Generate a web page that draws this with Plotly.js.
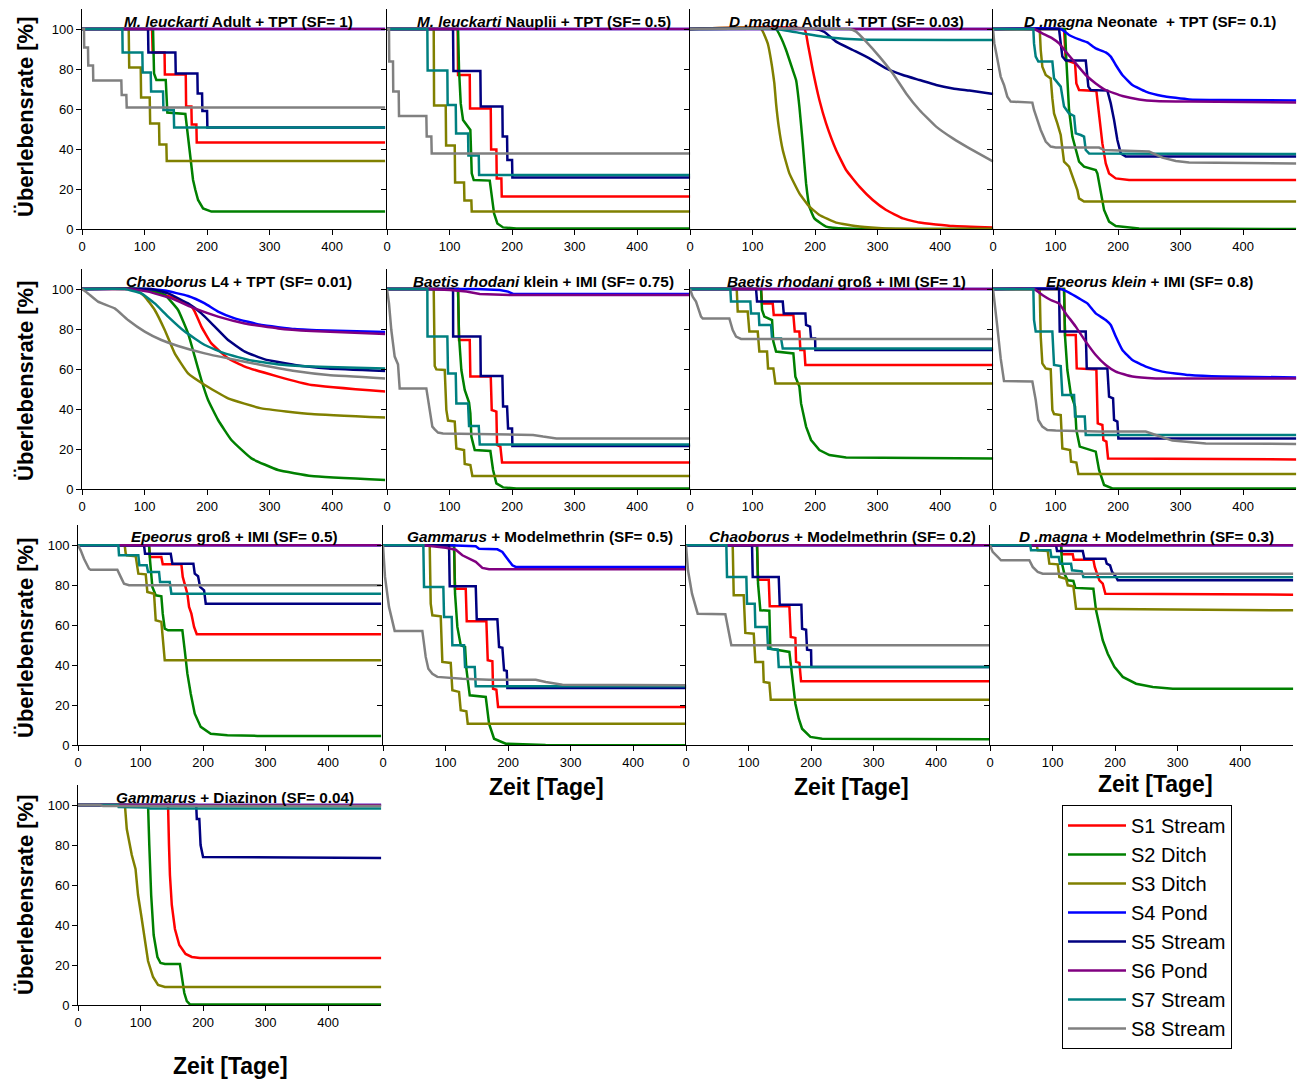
<!DOCTYPE html>
<html><head><meta charset="utf-8">
<script src="https://cdn.plot.ly/plotly-3.0.1.min.js"></script>
<style>html,body{margin:0;padding:0;background:#fff}#chart{width:1301px;height:1079px}</style>
</head><body><div id="chart"></div>
<script>
// ---- Data: survival curves, flat lists of [time (days), survival (%)] pairs ----
const SERIES_NAMES = ['S1 Stream','S2 Ditch','S3 Ditch','S4 Pond','S5 Stream','S6 Pond','S7 Stream','S8 Stream'];
const SERIES_COLORS = ['#FF0000','#008000','#808000','#0000FF','#000080','#800080','#008080','#808080'];
const X_TICKS = [0,100,200,300,400];
const Y_TICKS = [0,20,40,60,80,100];
const PANEL_TITLES = [
 '<i>M. leuckarti</i> Adult + TPT (SF= 1)',
 '<i>M. leuckarti</i> Nauplii + TPT (SF= 0.5)',
 '<i>D .magna</i> Adult + TPT (SF= 0.03)',
 '<i>D .magna</i> Neonate  + TPT (SF= 0.1)',
 '<i>Chaoborus</i> L4 + TPT (SF= 0.01)',
 '<i>Baetis rhodani</i> klein + IMI (SF= 0.75)',
 '<i>Baetis rhodani</i> groß + IMI (SF= 1)',
 '<i>Epeorus klein</i> + IMI (SF= 0.8)',
 '<i>Epeorus</i> groß + IMI (SF= 0.5)',
 '<i>Gammarus</i> + Modelmethrin (SF= 0.5)',
 '<i>Chaoborus</i> + Modelmethrin (SF= 0.2)',
 '<i>D .magna</i> + Modelmethrin (SF= 0.3)',
 '<i>Gammarus</i> + Diazinon (SF= 0.04)'
];

const P1_S1=[0,100,112,100,113,88.3,132,88.3,132.5,77.3,165.9,77.3,166.5,61.2,174.9,61.2,175.5,52.3,182.9,52.3,183.5,43.2,485,43.2];
const P1_S2=[0,100,113.6,100,115.2,77.8,118.9,74.5,133.9,74.5,136.5,58.2,165.3,57.5,169.6,46.2,173.9,32.8,177.6,24.5,181.3,19.5,185.6,14.5,193.6,10.3,206.9,8.7,485,8.7];
const P1_S3=[0,100,74.7,100,75.5,80.8,93.9,80.8,94.5,65.7,108.3,65.7,109,52.8,123.2,52.8,123.8,42.3,134.9,42.3,135.5,34,485,34];
const P1_S4=[0,100,485,100];
const P1_S5=[0,100,105.6,100,106.2,88.3,149.3,88.3,149.9,77.8,184.5,77.8,185,67.8,192,67.8,192.5,59,200,59,200.5,50.8,485,50.8];
const P1_S6=[0,100,485,100];
const P1_S7=[0,100,64.5,100,65,88.3,96.5,88.3,97,78.3,109.9,78.3,110.5,68.7,129.6,68.7,130.2,59.5,146.7,59.5,147.3,50.8,485,50.8];
const P1_S8=[0,100,3.2,100,3.5,90.8,9.6,90.8,10,81.7,17.6,81.7,18,74.2,62.9,74.2,63.5,67,70.9,67,71.5,60.8,485,60.8];

const P2_S1=[0,100,113,100,113.6,77,132.3,77,132.8,60.3,165.9,60.3,166.5,39.8,174.9,39.8,175.5,25.3,182.9,25.3,183.5,16.2,485,16.2];
const P2_S2=[0,100,113.6,100,115.2,79.5,117.9,62.8,121.6,54.5,129.6,50.8,133.3,49.5,135.5,27.8,138.7,24.5,164.3,24.2,167.5,16.2,171.2,7.8,176.5,2.8,185.6,0.8,206.9,0.3,485,0.3];
const P2_S3=[0,100,74.7,100,75.3,61.7,93.9,61.7,94.5,41.7,108.3,41.7,108.9,23.2,123.2,23.2,123.8,14.2,134.9,14.2,135.5,8.7,485,8.7];
const P2_S4=[0,100,485,100];
const P2_S5=[0,100,105.6,100,106.2,79,149.3,79,149.9,61.2,184.5,61.2,185,46.2,192,46.2,192.5,34.5,200,34.5,200.5,25.7,485,25.7];
const P2_S6=[0,100,485,100];
const P2_S7=[0,100,64.5,100,65,79.2,96.5,79.2,97,62,109.9,62,110.5,47.8,129.6,47.8,130.2,36.7,146.7,36.7,147.3,27,485,27];
const P2_S8=[0,100,3.2,100,3.6,83.7,9.6,83.7,10,68.7,18.7,68.7,19.2,56.5,62.9,56.5,63.5,46.2,70.9,46.2,71.5,37.8,485,37.8];

const P3_S1=[0,100,182.9,100,188.3,92.8,196.3,79.5,206.9,64.5,217.6,52.8,233.6,39.5,249.6,29.5,270.9,21.2,292.3,14.5,313.6,9.5,340.3,5.3,366.9,3.2,420.3,1.5,485,0.8];
const P3_S2=[0,100,137.6,100,145,96,153.6,89.5,164.3,79.5,169.6,74.5,174.9,61.2,180.3,42.8,185.6,22.8,190.9,11.2,198.9,5.3,217.6,1.2,250,0.2,485,0];
const P3_S3=[0,100,113.6,100,124.3,92.8,131.2,81.2,134.9,72.8,137.6,62.8,141.9,51.2,148.3,39.5,158.9,27.8,174.9,17.8,190.9,11.2,206.9,7,233.6,3.2,270.9,1.2,313.6,0.3,485,0];
const P3_S4=[0,100,485,100];
const P3_S5=[0,100,200,100,215,98.5,233.6,93.7,260.3,89.5,286.9,85.3,313.6,80.3,340.3,77,366.9,74.5,393.6,72,420.3,70.3,446.9,69.2,485,67.5];
const P3_S6=[0,100,485,100];
const P3_S7=[0,100,137.6,100,180.3,97.8,222.9,95.8,270.9,94.7,485,94.5];
const P3_S8=[0,100,254.9,100,265.6,98.7,281.6,93.7,302.9,86.2,324.3,77.8,345.6,67.8,366.9,59.5,393.6,51.2,420.3,45.3,446.9,40.3,485,33.7];

const P4_S1=[0,100,113.6,100,116.3,84.5,131.2,82.8,133.3,72.8,137.6,69.5,165.3,69,169.6,56.2,174.9,42.8,180.3,32.8,185.6,27.8,196.3,25.3,217.6,24.5,485,24.5];
const P4_S2=[0,100,115.2,100,117.3,84.5,121.6,59.5,126.9,46.2,132.3,39.5,137.6,33.7,145.6,31.2,164.3,29.5,166.9,27.8,172.3,19.5,177.6,9.5,185.6,3.7,196.3,1.5,233.6,0.3,485,0];
const P4_S3=[0,100,74.7,100,76.3,89.5,78.9,81.2,84.3,77,92.3,75.3,94.9,65.3,97.6,57.8,102.9,52.8,108.3,47,109.9,42.8,113.6,33.7,121.6,31.2,129.6,23.7,134.9,19.5,137.6,15.3,145.6,13.7,485,13.7];
const P4_S4=[0,100,108.3,100,121.6,97,137.6,94.8,150.9,93.3,164.3,90.3,180.3,88.3,188.3,86.2,196.3,82,206.9,77,222.9,72,244.3,68.7,270.9,66.5,313.6,64.8,366.9,64.5,485,64.3];
const P4_S5=[0,100,105.6,100,108.3,92.8,110.9,86.2,116.3,84.2,148.3,84.2,152.5,71.2,156.3,69.5,182.9,69.2,188.3,62.8,193.6,54.5,198.9,44.5,204.3,37.8,212.3,36.2,485,36.2];
const P4_S6=[0,100,65.6,100,78.9,97.8,94.9,95.3,105.6,92.8,116.3,88.7,132.3,82.8,148.3,77,164.3,72.8,180.3,69.5,206.9,66.5,233.6,64.8,260.3,64,313.6,63.7,485,63.3];
const P4_S7=[0,100,64.5,100,65.6,92.8,68.3,86.2,72.5,83.7,94.9,83.7,97.6,75.3,108.3,71.2,113.6,61.2,121.6,57.8,129.6,56.5,132.3,47.8,140.3,47,145.6,46.2,148.3,39.5,153.6,37.8,485,37.5];
const P4_S8=[0,100,2.1,92.8,5.3,87.8,8.5,82,12.3,76.2,17.6,72,22.9,66.2,28.3,63.7,62.9,63.2,65.6,59.5,70.9,54.5,76.3,49.5,84.3,43.7,92.3,41.2,100.3,40.7,169.6,40.7,177.6,39.5,249.6,38.7,270.9,35.7,292.3,34,313.6,33.2,485,32.8];

const P5_S1=[0,100,73.6,100,110.9,99.2,148.3,95.3,174.9,91.2,180.3,88.7,190.9,81.2,206.9,72.8,233.6,65.3,260.3,61.2,313.6,56.2,366.9,52,485,48.7];
const P5_S2=[0,100,100.3,100,132.3,97,153.6,89.5,169.6,77.8,180.3,66.2,190.9,54.5,201.6,44.5,217.6,34.5,238.9,24.5,270.9,15.3,313.6,9.5,366.9,6.5,485,4.5];
const P5_S3=[0,100,84.3,100,100.3,96.2,116.3,89.5,132.3,79.5,148.3,67.8,169.6,57.8,196.3,52,233.6,45.3,286.9,40.3,366.9,37.5,485,35.7];
const P5_S4=[0,100,106.7,100,132.3,99.2,169.6,96.5,196.3,92.8,217.6,88.7,244.3,85.3,286.9,82,340.3,80,393.6,79.2,485,78.5];
const P5_S5=[0,100,110.9,100,137.6,97.8,169.6,92.8,190.9,87.8,212.3,81.2,233.6,74.5,260.3,68.7,292.3,64.8,340.3,62,393.6,60.3,485,59];
const P5_S6=[0,100,73.6,100,105.6,98.7,142.9,95.3,180.3,90.3,217.6,86.2,260.3,82.8,313.6,80.3,366.9,79,485,77.5];
const P5_S7=[0,100,68.3,100,94.9,97.8,116.3,92.8,137.6,86.2,164.3,78.7,196.3,72,228.3,67.8,270.9,64.2,324.3,62,393.6,61,485,60.3];
const P5_S8=[0,100,9.6,97.8,25.6,93.7,52.3,90.3,73.6,84.5,100.3,78.7,126.9,74.5,153.6,71.5,196.3,67.8,233.6,65.3,286.9,62,340.3,59,393.6,57,485,55.3];

const P6_S1=[0,100,113.6,100,115.2,74.5,132.3,74.5,133.3,56.2,165.9,56.2,167.5,39.5,174.9,38.7,176,22,181.3,21.2,184,13.2,485,13.2];
const P6_S2=[0,100,113.6,100,115.2,76.2,118.9,59.5,124.3,49.5,131.2,43.2,133.3,37.8,134.9,26.2,140.3,19.5,165.3,19,169.6,9.5,174.9,2.8,185.6,0.8,206.9,0.3,485,0.3];
const P6_S3=[0,100,74.7,100,76.3,61.5,78.9,59.8,92.3,59.5,94.9,39.5,97.6,34.2,108.3,33.7,110.9,20.3,123.2,19.5,124.3,12.5,133.3,12,136.5,6.5,485,6.5];
const P6_S4=[0,100,142.9,100,180.3,99.5,193.6,98.7,201.6,97.5,485,97.5];
const P6_S5=[0,100,105.6,100,105.8,76.2,149.3,76.2,149.9,56.5,184.5,56.5,185.6,41.2,192,41.2,193.6,30.3,200,30.3,200.5,21.5,485,21.5];
const P6_S6=[0,100,65.6,100,100.3,99.5,126.9,98.7,148.3,97.5,196.3,97,485,97];
const P6_S7=[0,100,64.5,100,64.8,76.2,96.5,76.2,97.6,57.8,109.9,57.8,110.9,42.8,129.6,42.8,131.2,31.5,146.7,31.5,148.3,22.3,485,22.3];
const P6_S8=[0,100,3.2,92.8,6.9,79.5,12.3,66.2,17.6,62.3,20.3,50.3,62.9,50.3,68.3,39.5,72.5,31.2,76.3,29.8,81.6,28.2,89.6,27.8,153.6,27.3,233.6,27,249.6,26.2,270.9,25.3,485,25.3];

const P7_S1=[0,100,113.6,100,115.2,92.8,132.3,92.8,133.9,87,165.3,87,167.5,78.7,174.9,78.7,176.5,69.5,182.9,69.5,184.5,62,485,62];
const P7_S2=[0,100,113.6,100,115.2,89.5,118.9,86.2,131.2,84.5,133.3,73.7,137.6,68.7,165.3,67.8,168.5,56.2,174.9,51.2,177.6,42.8,181.3,37.8,185.6,31.2,193.6,24.5,206.9,19.5,222.9,17,249.6,15.7,485,15.3];
const P7_S3=[0,100,74.7,100,76.3,88.7,92.3,88.7,94.9,78.7,108.3,78.7,110.9,68.7,123.2,68.7,124.8,60.3,133.3,60.3,136.5,52.8,485,52.8];
const P7_S4=[0,100,485,100];
const P7_S5=[0,100,105.6,100,107.2,93.7,148.3,93.7,149.9,87.8,184.5,87.8,185.6,82,192,81.2,193.6,75.3,200,75.3,200.5,69.5,485,69.5];
const P7_S6=[0,100,485,100];
const P7_S7=[0,100,64.5,100,65.6,93.7,96.5,93.7,97.6,87.8,109.9,87.8,110.9,82,129.6,82,131.2,75.3,145.6,75.3,148.3,70.3,485,70.3];
const P7_S8=[0,100,4.3,96.2,9.6,93.7,17.6,86.2,20.3,85.3,62.9,85.3,68.3,79.5,73.6,76.2,81.6,75,485,75];

const P8_S1=[0,100,113.6,100,115.2,77,132.3,77,133.9,60.3,165.3,59.8,167.5,32.8,174.9,32,176.5,24.5,181.3,23.7,184,15.3,485,14.8];
const P8_S2=[0,100,113.6,100,115.2,76.2,118.9,59.5,124.3,47.8,131.2,41.2,133.3,29.5,138.7,21.2,164.3,18.7,169.6,9.5,177.6,2,190.9,0.3,485,0.3];
const P8_S3=[0,100,74.7,100,76.3,76.2,78.9,62.8,84.3,60.3,92.3,59.8,94.9,39.5,97.6,37.5,108.3,37,110.9,20.3,123.2,19.5,124.8,13.7,133.3,13.2,136.5,7.5,485,7.5];
const P8_S4=[0,100,108.3,100,121.6,98.2,137.6,95.3,150.9,92.8,164.3,87.8,180.3,84.5,188.3,82,196.3,76.2,206.9,69.5,222.9,64.5,244.3,61.2,270.9,58.7,313.6,57,366.9,56.2,485,55.8];
const P8_S5=[0,100,105.6,100,106.7,78.7,148.3,78.7,149.9,60.3,182.9,60.3,185.6,46.2,192,45.3,193.6,34.5,198.9,33.7,200.5,25.3,485,25.3];
const P8_S6=[0,100,65.6,100,78.9,97,92.3,94.5,105.6,92.8,116.3,87.8,132.3,81.2,148.3,73.7,164.3,67,180.3,62,196.3,58.7,222.9,56.2,260.3,55.3,485,55.3];
const P8_S7=[0,100,64.5,100,65.6,84.5,68.3,78.7,94.9,78.7,97.6,62,108.3,61.5,110.9,47,129.6,47,131.2,36.2,146.7,36.2,148.3,27,485,27];
const P8_S8=[0,100,3.2,89.5,6.9,81.2,12.3,65.3,17.6,54,62.9,53.7,68.3,44.5,72.5,34.5,78.9,31.2,86.9,29.5,100.3,29.2,169.6,28.7,244.3,28.7,260.3,27,286.9,24.2,340.3,22.8,485,22.5];

const P9_S1=[0,100,113.6,100,115.2,94.2,133.3,94.2,135.5,90.5,165.3,90.5,167.5,84.2,174.9,75.8,177.6,69.2,181.3,65.8,185.6,59.2,189.9,55.5,485,55.5];
const P9_S2=[0,100,113.6,100,115.2,92.5,118.9,79.2,124.3,75,133.3,74.5,135.5,65.8,138.7,58.3,144,57.5,166.9,57.5,170.7,47.5,174.9,35.8,180.3,25.8,186.7,15.8,196.3,9.2,212.3,5.8,238.9,5,286.9,4.7,485,4.7];
const P9_S3=[0,100,74.7,100,76.3,95.8,77.9,95,92.3,94.5,94.9,87.5,96.5,85.8,108.3,85.5,110.9,76.7,121.6,75.8,124.3,62.5,133.3,61.7,135.5,51.7,138.7,42.5,485,42.5];
const P9_S4=[0,100,485,100];
const P9_S5=[0,100,105.6,100,107.2,95.8,148.3,95.8,150.9,90.8,184.5,90.8,186.7,85.8,192,84.5,195.2,79.2,201.6,77.5,204.3,70.8,485,70.8];
const P9_S6=[0,100,485,100];
const P9_S7=[0,100,64.5,100,65.6,95,96.5,95,98.1,90,109.9,90,112,86.7,129.6,86.7,131.2,81.7,146.7,81.7,149.3,75.8,485,75.8];
const P9_S8=[0,100,4.3,97.5,9.6,93.3,17.6,88.3,20.3,87.8,62.9,87.8,68.3,84.2,73.6,80.8,81.6,80,485,80];

const P10_S1=[0,100,113.6,100,115.2,78.3,132.3,78.3,133.9,62,165.3,62,167.5,42.5,174.9,42,176,28.3,181.3,27.8,184,19.2,485,19.2];
const P10_S2=[0,100,113.6,100,115.2,75.8,118.9,59.2,124.3,50,131.2,49.2,133.3,38.3,138.7,25,164.3,24.2,169.6,10.8,177.6,3.3,196.3,0.8,260,0.2,485,0];
const P10_S3=[0,100,74.7,100,76.3,70.8,78.9,65,92.3,64.5,94.9,41.7,108.3,41.2,110.9,27.5,121.6,26.7,124.3,17.5,133.3,17,135.5,10.8,485,10.8];
const P10_S4=[0,100,105.6,100,148.3,99.5,153.6,98.3,182.9,98,190.9,96.7,198.9,93.3,206.9,90,212.3,89.2,485,89.2];
const P10_S5=[0,100,105.6,100,106.7,79.5,148.3,79.5,149.9,63,182.9,63,185.6,49.2,190.9,48.8,193.6,37.5,197.9,37.2,198.9,28.7,485,28.7];
const P10_S6=[0,100,65.6,100,100.3,98.8,116.3,97.8,126.9,95,137.6,93.3,148.3,91.7,158.9,88.7,169.6,88,485,88];
const P10_S7=[0,100,64.5,100,65.6,79.2,96.5,79.2,97.6,64.2,109.9,64.2,110.9,50,129.6,50,131.2,39.2,146.7,39.2,148.3,29.5,485,29.5];
const P10_S8=[0,100,3.2,84.2,9.6,69.2,18.7,57.2,62.9,57.2,68.3,44.2,72.5,38.3,78.9,35.8,86.9,34.2,126.9,33.3,169.6,32.8,244.3,32.8,260.3,31.7,286.9,30.3,485,30];

const P11_S1=[0,100,113.6,100,115.2,82.8,132.3,82.8,133.9,69.5,165.3,69.5,167.5,54.2,174.9,53.7,176,41.7,181.3,41.2,184,32,485,32];
const P11_S2=[0,100,113.6,100,115.2,80.8,118.9,67.5,133.3,67.3,134.9,48.3,165.3,46.7,169.6,34.2,174.9,20.8,180.3,13.3,185.6,8.3,198.9,4.2,217.6,3.3,485,3];
const P11_S3=[0,100,74.7,100,76.3,75,92.3,75,94.9,56.2,108.3,55.8,110.9,41.7,123.2,41.7,124.3,31.7,133.3,31.2,135.5,22.8,485,22.8];
const P11_S4=[0,100,485,100];
const P11_S5=[0,100,105.6,100,106.7,84.2,148.3,84.2,149.9,70.3,184.5,70.3,185.6,58.3,192,57.8,193.6,47.8,200,47.5,200.5,39.2,485,39.2];
const P11_S6=[0,100,485,100];
const P11_S7=[0,100,64.5,100,65.6,84.2,96.5,84.2,97.6,70.8,109.9,70.8,110.9,59.2,129.6,59.2,131.2,48.3,146.7,47.8,148.3,39.2,485,39.2];
const P11_S8=[0,100,3.2,87.5,9.6,75.8,18.7,65.8,62.9,65.5,68.3,57.2,72.5,50,485,50];

const P12_S1=[0,100,113.6,100,115.2,95.5,132.3,95.5,133.9,92.8,165.3,92.8,167.5,89.2,174.9,82.5,180.3,80.8,184.5,75.8,485,75.3];
const P12_S2=[0,100,113.6,100,115.2,90.8,118.9,85.8,124.3,82.5,133.3,82.2,136.5,78.7,165.3,78.3,169.6,67.5,174.9,60.8,180.3,52.5,188.3,45.8,198.9,39.2,212.3,34.2,233.6,30.8,260.3,29.2,292.3,28.3,485,28.3];
const P12_S3=[0,100,74.7,100,76.3,97.5,92.3,97.2,94.9,90.8,108.3,90.5,110.9,84.2,121.6,83.3,124.3,80,133.3,79.5,137.6,68.3,485,67.5];
const P12_S4=[0,100,485,100];
const P12_S5=[0,100,105.6,100,107.2,97.2,148.3,97.2,150.9,93.3,184.5,93.3,186.7,90.8,192,90,195.2,86.7,201.6,84.2,204.3,82.5,485,82.5];
const P12_S6=[0,100,485,100];
const P12_S7=[0,100,64.5,100,65.6,97.5,96.5,97.5,98.1,94.2,109.9,94.2,112,90.8,129.6,90.8,131.2,87.5,146.7,87,149.3,84.2,485,84];
const P12_S8=[0,100,4.3,96.7,12.3,94.2,17.6,92.5,62.9,92.5,68.3,89.2,76.3,86.7,84.3,85.8,485,85.8];

const P13_S1=[0,100,144,100,145.5,80,147,65,150,50,155,38,162,30,172,25.5,182,24,195,23.5,485,23.5];
const P13_S2=[0,100,112,100,114,80,117,55,121,35,127,24,132,21,139,20.5,163,20.5,166,14,170,6,174,2,179,0.3,485,0.3];
const P13_S3=[0,100,75,100,78,88,82,82,86,75,92,68,96,55,101,45,106,35,112,22,120,14,128,10,139,9,485,9];
const P13_S4=[0,100,485,100];
const P13_S5=[0,100,189,100,190,93,194,93,196,80,200,74,485,73.5];
const P13_S6=[0,100,485,100];
const P13_S7=[0,100,64,100,65,99,110,98.8,115,98.2,485,98.2];
const P13_S8=[0,100,35,100,40,99.5,485,99.5];

const PANEL_SERIES = [
 [P1_S1,P1_S2,P1_S3,P1_S4,P1_S5,P1_S6,P1_S7,P1_S8],
 [P2_S1,P2_S2,P2_S3,P2_S4,P2_S5,P2_S6,P2_S7,P2_S8],
 [P3_S1,P3_S2,P3_S3,P3_S4,P3_S5,P3_S6,P3_S7,P3_S8],
 [P4_S1,P4_S2,P4_S3,P4_S4,P4_S5,P4_S6,P4_S7,P4_S8],
 [P5_S1,P5_S2,P5_S3,P5_S4,P5_S5,P5_S6,P5_S7,P5_S8],
 [P6_S1,P6_S2,P6_S3,P6_S4,P6_S5,P6_S6,P6_S7,P6_S8],
 [P7_S1,P7_S2,P7_S3,P7_S4,P7_S5,P7_S6,P7_S7,P7_S8],
 [P8_S1,P8_S2,P8_S3,P8_S4,P8_S5,P8_S6,P8_S7,P8_S8],
 [P9_S1,P9_S2,P9_S3,P9_S4,P9_S5,P9_S6,P9_S7,P9_S8],
 [P10_S1,P10_S2,P10_S3,P10_S4,P10_S5,P10_S6,P10_S7,P10_S8],
 [P11_S1,P11_S2,P11_S3,P11_S4,P11_S5,P11_S6,P11_S7,P11_S8],
 [P12_S1,P12_S2,P12_S3,P12_S4,P12_S5,P12_S6,P12_S7,P12_S8],
 [P13_S1,P13_S2,P13_S3,P13_S4,P13_S5,P13_S6,P13_S7,P13_S8]
];

// ---- Styling: which curves are drawn smoothed (panel index -> series indices) ----
const SMOOTH_SERIES = {2:[0,1,2,4,6,7], 4:[0,1,2,3,4,5,6,7], 3:[3,5], 7:[3,5]};

// ---- Layout geometry (pixels) ----
const W = 1301, H = 1079;
const COLS_TOP = [[82,385.3],[387,690.3],[690,993.3],[993,1296.3]];
const COLS_BOT = [[78,381.3],[383,686.3],[686,989.3],[990,1293.3]];
const ROWS = [[9,229],[269,489],[525.3,745.3],[785,1005]];
const TITLE_Y = [21,281,537,797];
const YTITLE_Y = [117,381,638,895];
const FONT = 'Liberation Sans, Arial, sans-serif';

const traces = [];
const annotations = [];
const layout = {
  width: W, height: H,
  margin: {l:0, r:0, t:0, b:0},
  paper_bgcolor: '#ffffff', plot_bgcolor: 'rgba(0,0,0,0)',
  showlegend: true,
  legend: {
    x: 1062/W, y: 1 - 805/H, xanchor: 'left', yanchor: 'top',
    bordercolor: '#000', borderwidth: 1, bgcolor: '#fff',
    font: {family: FONT, size: 20, color: '#000'},
    itemwidth: 58, traceorder: 'normal'
  },
  annotations: annotations
};

PANEL_SERIES.forEach((series, i) => {
  const k = i + 1, s = (k === 1 ? '' : String(k));
  const row = Math.floor(i / 4), col = i % 4;
  const [l, r] = (row < 2 ? COLS_TOP : COLS_BOT)[col];
  const [t, b] = ROWS[row];
  layout['xaxis' + s] = {
    domain: [l / W, r / W], range: [0, 485], anchor: 'y' + s,
    tickvals: X_TICKS, ticks: 'outside', ticklen: 5, tickwidth: 1, tickcolor: '#000',
    showline: true, linecolor: '#000', linewidth: 1, showgrid: false, zeroline: false,
    tickfont: {family: FONT, size: 13, color: '#000'}, fixedrange: true
  };
  layout['yaxis' + s] = {
    domain: [1 - b / H, 1 - t / H], range: [0, 110], anchor: 'x' + s,
    tickvals: Y_TICKS, ticks: 'outside', ticklen: 5, tickwidth: 1, tickcolor: '#000',
    showticklabels: col === 0,
    showline: true, linecolor: '#000', linewidth: 1, showgrid: false, zeroline: false,
    tickfont: {family: FONT, size: 13, color: '#000'}, fixedrange: true
  };
  const smooth = SMOOTH_SERIES[i] || [];
  series.forEach((arr, j) => {
    const sm = smooth.indexOf(j) >= 0;
    traces.push({
      x: arr.filter((v, n) => n % 2 === 0),
      y: arr.filter((v, n) => n % 2 === 1),
      type: 'scatter', mode: 'lines',
      name: SERIES_NAMES[j], showlegend: i === 0,
      line: sm ? {color: SERIES_COLORS[j], width: 2.5, shape: 'spline', smoothing: 0.35}
               : {color: SERIES_COLORS[j], width: 2.5},
      xaxis: 'x' + s, yaxis: 'y' + s, hoverinfo: 'skip'
    });
  });
  annotations.push({
    text: '<b>' + PANEL_TITLES[i] + '</b>', xref: 'paper', yref: 'paper',
    x: ((l + r) / 2 + 5) / W, y: 1 - TITLE_Y[row] / H, xanchor: 'center', yanchor: 'middle',
    showarrow: false, font: {family: FONT, size: 15.3, color: '#000'}
  });
});

// axis titles
[0,1,2,3].forEach(row => {
  annotations.push({
    text: '<b>Überlebensrate [%]</b>', xref: 'paper', yref: 'paper',
    x: 25 / W, y: 1 - YTITLE_Y[row] / H, xanchor: 'center', yanchor: 'middle',
    textangle: -90, showarrow: false, font: {family: FONT, size: 22, color: '#000'}
  });
});
[[546,787],[851,787],[1155,784],[230,1066]].forEach(p => {
  annotations.push({
    text: '<b>Zeit [Tage]</b>', xref: 'paper', yref: 'paper',
    x: p[0] / W, y: 1 - p[1] / H, xanchor: 'center', yanchor: 'middle',
    showarrow: false, font: {family: FONT, size: 23, color: '#000'}
  });
});

Plotly.newPlot('chart', traces, layout, {staticPlot: true, displayModeBar: false});
</script>
</body></html>
